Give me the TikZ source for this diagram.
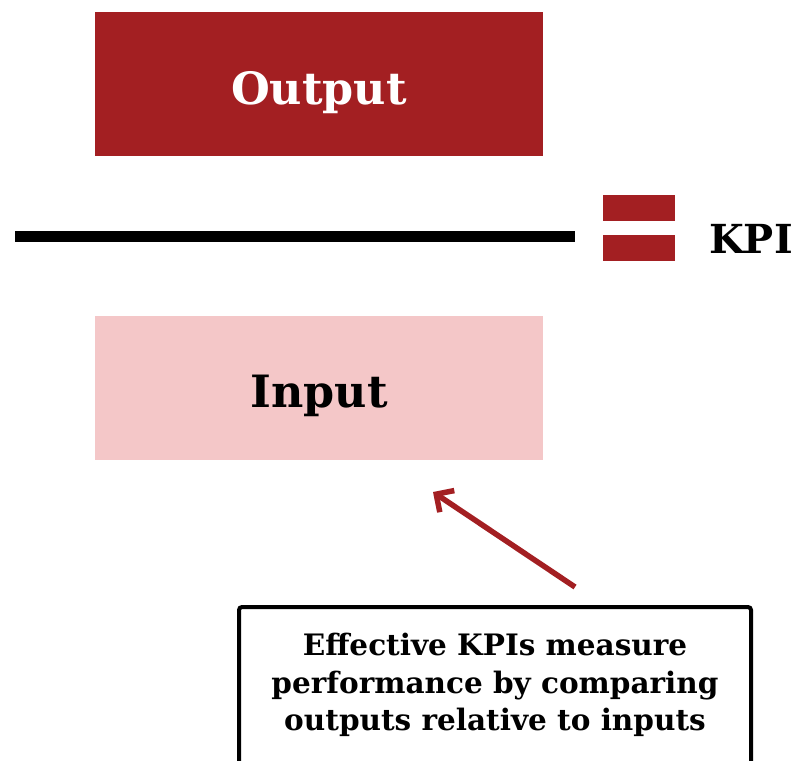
\documentclass[tikz,border=0pt]{standalone}
\usepackage{fontspec}
\setmainfont{DejaVu Serif}
\usetikzlibrary{arrows.meta}
\definecolor{kpired}{HTML}{A31F22}
\definecolor{kpipink}{HTML}{F4C7C8}
\tikzset{
  bigbox/.style={minimum width=448pt, minimum height=144pt, inner sep=0pt, outer sep=0pt},
  bar/.style={fill=kpired, minimum width=72pt, minimum height=26pt, inner sep=0pt},
  bigtext/.style={font=\bfseries\fontsize{44.5}{50}\selectfont, inner sep=0pt, anchor=base},
}
\begin{document}
\begin{tikzpicture}[x=1pt,y=-1pt]
\useasboundingbox (0,0) rectangle (794,760);
\clip (0,0) rectangle (794,760);
\node[bigbox, fill=kpired] (output) at (319,84) {};
\node[bigtext, text=white] (outputlabel) at (319,104) {Output};
\node[bigbox, fill=kpipink] (input) at (319,388) {};
\node[bigtext, text=black] (inputlabel) at (319,407) {Input};
\coordinate (lineL) at (15,236);
\coordinate (lineR) at (575,236);
\draw[line width=11pt] (lineL) -- (lineR);
\node[bar] (bartop) at (639,208) {};
\node[bar] (barbot) at (639,247.5) {};
\node[font=\bfseries\fontsize{40}{44}\selectfont, anchor=base west, inner sep=0pt] (kpi) at (709,253) {KPI};
\node[draw, line width=4pt, rounded corners=3pt, minimum width=512pt, minimum height=190pt, anchor=north, inner sep=0pt] (note) at (495,605) {};
\node[align=center, font=\bfseries\fontsize{29.5}{37.5}\selectfont, inner sep=0pt] (notetext) at (495,685) {Effective KPIs measure\\performance by comparing\\outputs relative to inputs};
\coordinate (arrstart) at (575,587);
\coordinate (arrend) at (433,492);
\draw[kpired, line width=5.5pt, -{Straight Barb[length=13pt,width=26pt]}] (arrstart) -- (arrend);
\end{tikzpicture}
\end{document}
